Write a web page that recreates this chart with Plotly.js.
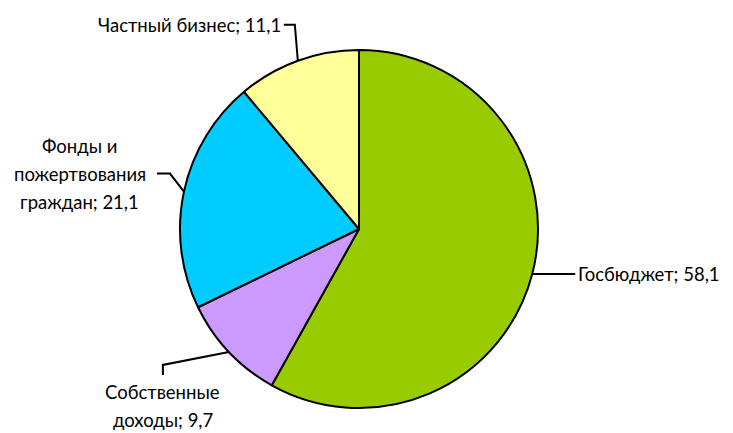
<!DOCTYPE html>
<html><head><meta charset="utf-8">
<script src="https://cdn.plot.ly/plotly-3.0.1.min.js"></script>
<style>html,body{margin:0;padding:0;background:#fff}#c{width:733px;height:433px}</style>
</head><body><div id="c"></div>
<script>
// ---- data ----
const labels = ["Госбюджет", "Собственные доходы", "Фонды и пожертвования граждан", "Частный бизнес"];
const values = [58.1, 9.7, 21.1, 11.1];
const valueText = ["58,1", "9,7", "21,1", "11,1"];
const colors = ["#99CC00", "#CC99FF", "#00CCFF", "#FFFF99"];
// label line breaks (text only)
const labelLines = [
  ["Госбюджет; 58,1"],
  ["Собственные", "доходы; 9,7"],
  ["Фонды и", "пожертвования", "граждан; 21,1"],
  ["Частный бизнес; 11,1"]
];

// ---- layout / style ----
const W = 733, H = 433;
const cx = 359, cy = 229, R = 179;
const FONT = {family: "Lato, 'Noto Sans', sans-serif", size: 18.5, color: "#000"};
const LH = 28;
// leader style per slice: elbow offsets relative to edge point, label placement
const leaders = [
  {pts: [[43, 0]], anchor: "left", dx: 1, dy: 0},
  {pts: [[-66, 13], [-66, 23]], anchor: "center", dx: 0, dy: 17, down: true},
  {pts: [[-14, -18], [-27, -18]], anchor: "center", dx: -77, dy: 0, mid: true},
  {pts: [[-3, -36], [-14, -36]], anchor: "right", dx: -1, dy: 0}
];

const px = x => x / W, py = y => 1 - y / H;
const total = values.reduce((a, b) => a + b, 0);
const shapes = [], annotations = [];
let cum = 0;
values.forEach((v, i) => {
  const mid = (cum + v / 2) / total * 2 * Math.PI;
  cum += v;
  const ex = cx + R * Math.sin(mid), ey = cy - R * Math.cos(mid);
  const L = leaders[i];
  let path = `M ${px(ex)} ${py(ey)}`;
  let lx = ex, ly = ey;
  L.pts.forEach(p => { lx = ex + p[0]; ly = ey + p[1]; path += ` L ${px(lx)} ${py(ly)}`; });
  shapes.push({type: "path", xref: "paper", yref: "paper", path: path, line: {color: "#000", width: 2}});
  const lines = labelLines[i];
  lines.forEach((t, k) => {
    let yy;
    if (L.down) yy = ly + L.dy + k * LH;
    else if (L.mid) yy = ly + (k - (lines.length - 1) / 2) * LH;
    else yy = ly + L.dy;
    annotations.push({
      xref: "paper", yref: "paper", x: px(lx + L.dx), y: py(yy),
      text: t, showarrow: false, xanchor: L.anchor, yanchor: "middle",
      font: FONT
    });
  });
});

const trace = {
  type: "pie",
  labels: labels, values: values,
  sort: false, direction: "clockwise", rotation: 0,
  marker: {colors: colors, line: {color: "#000", width: 2}},
  textinfo: "none", hoverinfo: "label+value",
  domain: {x: [px(cx - R), px(cx + R)], y: [py(cy + R), py(cy - R)]}
};

Plotly.newPlot("c", [trace], {
  width: W, height: H, margin: {l: 0, r: 0, t: 0, b: 0},
  showlegend: false, paper_bgcolor: "#fff",
  shapes: shapes, annotations: annotations
}, {staticPlot: true});
</script></body></html>
